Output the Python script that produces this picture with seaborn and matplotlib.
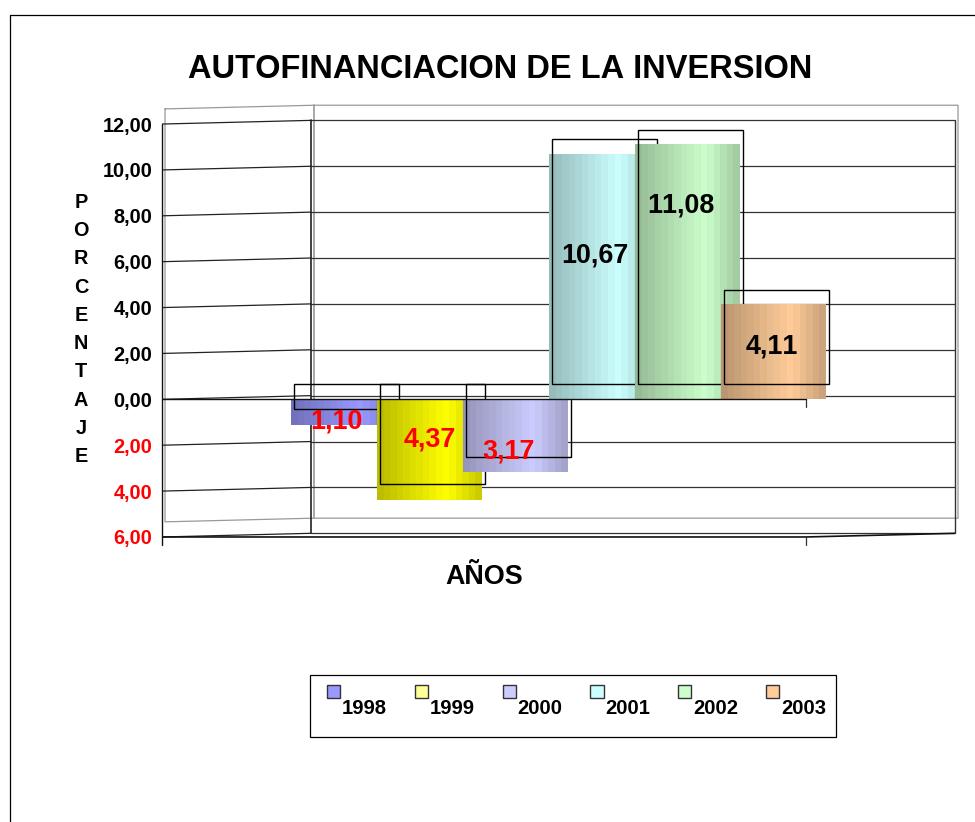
import numpy as np
import matplotlib
matplotlib.use("Agg")
import matplotlib.pyplot as plt
from matplotlib.legend_handler import HandlerPatch
from matplotlib.lines import Line2D
from matplotlib.patches import Patch, Rectangle
import seaborn as sns

YEARS = ["1998", "1999", "2000", "2001", "2002", "2003"]
VALUES = [-1.10, -4.37, -3.17, 10.67, 11.08, 4.11]
VALUE_LABELS = ["1,10", "4,37", "3,17", "10,67", "11,08", "4,11"]
Y_TICKS = [-6, -4, -2, 0, 2, 4, 6, 8, 10, 12]
Y_TICK_LABELS = ["6,00", "4,00", "2,00", "0,00", "2,00", "4,00", "6,00", "8,00", "10,00", "12,00"]
BAR_COLORS = ["#9999FF", "#FFFF00", "#CCCCFF", "#CCFFFF", "#CCFFCC", "#FFCC99"]
LEGEND_COLORS = ["#9999FF", "#FFFF99", "#CCCCFF", "#CCFFFF", "#CCFFCC", "#FFCC99"]

# where the data labels sit, relative to each bar
LABEL_DX = [-0.08, 0.0, -0.08, -0.08, -0.08, -0.02]
LABEL_Y = [-0.96, -1.75, -2.27, 6.29, 8.44, 2.31]

W, H = 975, 822
PX_X = 86.0   # pixels per bar step
PX_Y = 22.9   # pixels per y unit
BACK = 0.16   # rise of the gridlines towards the back wall
DX, DY = 0.035, 0.66   # shift of the black frames and the grey wall
X_LEFT, X_CORNER, X_FRONT, X_RIGHT = -2.11, -0.378, 5.378, 7.11


def shade_bar(ax, bar, color, zorder):
    """Paint a bar as a banded cylinder, the way the old 3D chart does."""
    x0, y0 = bar.get_x(), bar.get_y()
    rgb = np.array(matplotlib.colors.to_rgb(color))
    pos = np.linspace(0, 1, 16)
    factor = np.interp(pos, [0, 0.68, 1], [0.74, 1.0, 0.8])
    strip = (factor[:, None] * rgb)[None, :, :]
    ax.imshow(strip, extent=(x0, x0 + bar.get_width(), y0, y0 + bar.get_height()),
              aspect="auto", interpolation="nearest", zorder=zorder)
    bar.set_visible(False)


def swatch(legend, orig_handle, xdescent, ydescent, width, height, fontsize):
    # legend squares float above the text baseline
    return Rectangle((0, 11.5), 9.6, 9.6)


def plot_chart():
    sns.set_theme(style="white")
    plt.rcParams["font.family"] = ["Liberation Sans", "DejaVu Sans"]
    plt.rcParams["font.weight"] = "bold"
    plt.rcParams["text.kerning_factor"] = 6

    fig = plt.figure(figsize=(W / 100, H / 100), dpi=100)
    ax = fig.add_axes([162 / W, (H - 550) / H, 793 / W, 450 / H])
    ax.patch.set_alpha(0)

    sns.barplot(x=YEARS, y=VALUES, hue=YEARS, palette=BAR_COLORS, dodge=False,
                width=1.22, legend=False, ax=ax, order=YEARS, hue_order=YEARS)
    bars = [c[0] for c in ax.containers]

    # grid: front wall slanting to the back wall
    for y in Y_TICKS:
        ax.plot([X_LEFT, X_CORNER], [y, y + BACK], color="#222222", lw=0.9, zorder=1)
        ax.plot([X_CORNER, X_RIGHT], [y + BACK, y + BACK], color="#333333", lw=0.9, zorder=1)

    # grey outline of the wall, shifted up behind the grid
    gx = [X_LEFT + DX, X_CORNER + DX, X_RIGHT + DX, X_RIGHT + DX, X_CORNER + DX, X_LEFT + DX, X_LEFT + DX]
    gy = [12 + DY, 12 + DY + BACK, 12 + DY + BACK, -6 + DY + BACK, -6 + DY + BACK, -6 + DY, 12 + DY]
    ax.plot(gx, gy, color="#999999", lw=0.9, zorder=0.5, clip_on=False)
    ax.plot([X_CORNER + DX] * 2, [-6 + DY + BACK, 12 + DY + BACK], color="#999999", lw=1.2, zorder=0.5)

    # axis lines
    ax.plot([X_LEFT, X_LEFT], [12, -6.35], color="#111111", lw=1.0, zorder=1, clip_on=False)
    ax.plot([X_CORNER, X_CORNER], [12 + BACK, -6 + BACK], color="#222222", lw=1.2, zorder=1)
    ax.plot([X_RIGHT, X_RIGHT], [12 + BACK, -6 + BACK], color="#333333", lw=1.0, zorder=1, clip_on=False)
    ax.plot([X_LEFT, X_FRONT, X_RIGHT], [-6, -6, -6 + BACK], color="#111111", lw=1.2, zorder=1)
    ax.plot([X_FRONT, X_FRONT], [-6, -6.35], color="#333333", lw=0.9, zorder=1)
    ax.plot([X_LEFT, X_FRONT], [0, 0], color="#111111", lw=1.0, zorder=20)
    ax.plot([X_FRONT, X_FRONT], [0, -0.35], color="#333333", lw=0.9, zorder=1)

    # each bar then its frame, so the next bar covers the previous frame
    for i, bar in enumerate(bars):
        shade_bar(ax, bar, BAR_COLORS[i], 2 + 2 * i)
        ax.add_patch(Rectangle((bar.get_x() + DX, min(VALUES[i], 0) + DY),
                               bar.get_width(), abs(VALUES[i]),
                               fill=False, edgecolor="black", lw=1.0, zorder=3 + 2 * i))

    for i, label in enumerate(VALUE_LABELS):
        ax.text(i + LABEL_DX[i], LABEL_Y[i], label, ha="center", va="center", fontsize=19.4,
                fontweight="bold", color="red" if VALUES[i] < 0 else "black", zorder=30)

    ax.set_xlim(X_LEFT, X_RIGHT)
    ax.set_ylim(-6 - 13 / PX_Y, 12 + 24 / PX_Y)
    ax.set_xticks([])
    ax.set_yticks(Y_TICKS)
    ax.set_yticklabels(Y_TICK_LABELS, fontsize=14.3, fontweight="bold")
    for tick, v in zip(ax.get_yticklabels(), Y_TICKS):
        tick.set_color("red" if v < 0 else "black")
    ax.tick_params(axis="y", length=0, pad=7)
    ax.set_xlabel("")
    ax.set_ylabel("")
    sns.despine(ax=ax, left=True, bottom=True)

    fig.text(500 / W, 1 - 70 / H, "AUTOFINANCIACION DE LA INVERSION", ha="center", va="center",
             fontsize=23.5, fontweight="bold", color="black")
    fig.text(484 / W, 1 - 577 / H, "AÑOS", ha="center", va="center",
             fontsize=19.4, fontweight="bold", color="black")
    fig.text(81 / W, 1 - 329.5 / H, "\n".join("PORCENTAJE"), ha="center", va="center",
             fontsize=14.3, fontweight="bold", color="black", linespacing=1.62)

    # legend box and entries
    fig.add_artist(Rectangle((310 / W, 1 - 737 / H), 526 / W, 62 / H, fill=False,
                             edgecolor="black", lw=0.9, transform=fig.transFigure))
    handles = [Patch(facecolor=c, edgecolor="#333333", lw=1.0) for c in LEGEND_COLORS]
    fig.legend(handles, YEARS, ncol=6, loc="upper left", bbox_to_anchor=(327 / W, 1 - 699 / H),
               frameon=False, borderpad=0, borderaxespad=0, fontsize=14.6,
               handlelength=0.69, handletextpad=0.05, columnspacing=1.37,
               handler_map={Patch: HandlerPatch(patch_func=swatch)},
               labelcolor="black")

    # page border, open to the right and bottom
    fig.add_artist(Line2D([10 / W, 10 / W], [0, 1 - 15 / H], color="black", lw=0.9))
    fig.add_artist(Line2D([10 / W, 1], [1 - 15 / H, 1 - 15 / H], color="black", lw=0.9))

    fig.savefig("out.png", dpi=100, facecolor="white")
    plt.close(fig)


if __name__ == "__main__":
    plot_chart()
